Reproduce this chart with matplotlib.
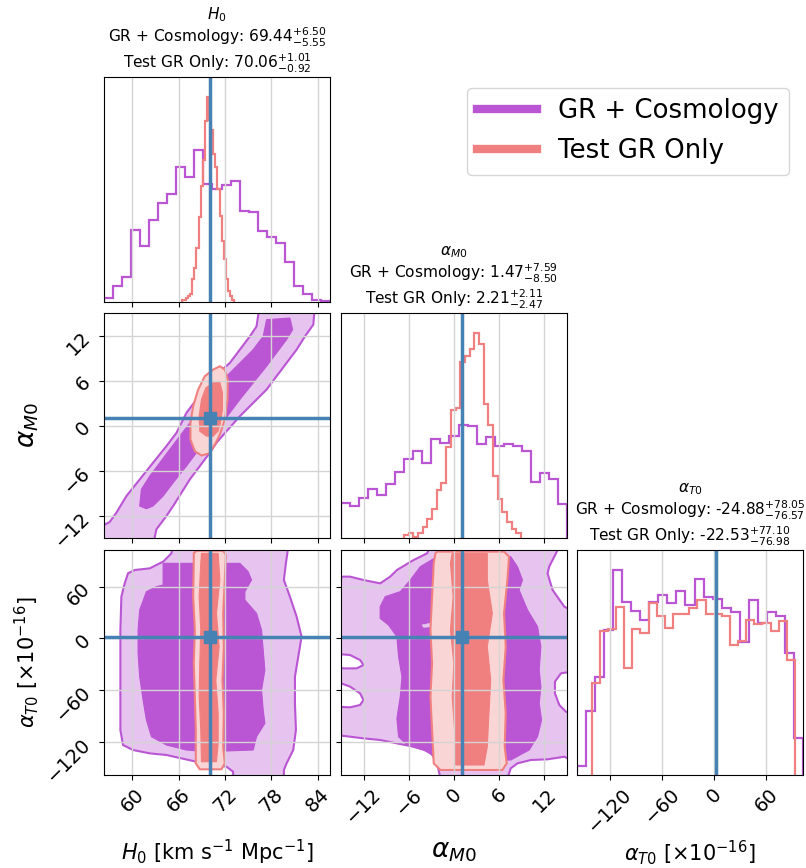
import numpy as np
import matplotlib.pyplot as plt
from matplotlib.lines import Line2D

series = ["GR + Cosmology", "Test GR Only"]
colors = ["mediumorchid", "lightcoral"]
light_colors = ["#e7c4f0", "#fad5d5"]
truth_color = "steelblue"

labels = ["$H_0$ [km s$^{-1}$ Mpc$^{-1}$]", r"$\alpha_{M0}$", r"$\alpha_{T0}$ [$\times10^{-16}$]"]
label_sizes = [15, 19, 15]
ranges = [(56.34, 85.6), (-15.0, 15.0), (-158.5, 102.5)]
ticks = [[60, 66, 72, 78, 84], [-12, -6, 0, 6, 12], [-120, -60, 0, 60]]
truths = [70.0, 1.0, 2.0]
titles = [
    "$H_0$\nGR + Cosmology: $69.44^{+6.50}_{-5.55}$\nTest GR Only: $70.06^{+1.01}_{-0.92}$",
    "$\\alpha_{M0}$\nGR + Cosmology: $1.47^{+7.59}_{-8.50}$\nTest GR Only: $2.21^{+2.11}_{-2.47}$",
    "$\\alpha_{T0}$\nGR + Cosmology: -24.88${}^{+78.05}_{-76.57}$\nTest GR Only: -22.53${}^{+77.10}_{-76.98}$",
]

# 1D marginals, 25 bins each (cosmo bins span the full axis range)
h0_cosmo = [0.018, 0.070, 0.111, 0.319, 0.250, 0.364, 0.438, 0.480, 0.599, 0.557, 0.673, 0.525, 0.501,
            0.520, 0.535, 0.406, 0.401, 0.317, 0.290, 0.260, 0.178, 0.071, 0.037, 0.010, 0.003]
h0_test = [0.007, 0.007, 0.019, 0.027, 0.034, 0.104, 0.153, 0.239, 0.376, 0.517, 0.629, 0.804, 0.908,
           0.807, 0.762, 0.658, 0.599, 0.502, 0.383, 0.272, 0.190, 0.101, 0.049, 0.025, 0.010]
h0_test_range = (66.40, 73.21)

am_cosmo = [0.157, 0.142, 0.180, 0.220, 0.191, 0.242, 0.295, 0.350, 0.387, 0.335, 0.442, 0.424, 0.454,
            0.504, 0.499, 0.420, 0.451, 0.409, 0.420, 0.409, 0.387, 0.249, 0.291, 0.261, 0.150]
am_test = [0.013, 0.021, 0.006, 0.021, 0.050, 0.083, 0.128, 0.212, 0.246, 0.407, 0.568, 0.577, 0.783,
           0.810, 0.843, 0.911, 0.865, 0.599, 0.503, 0.276, 0.172, 0.116, 0.073, 0.042, 0.021]
am_test_range = (-6.64, 8.91)

at_cosmo = [0.039, 0.287, 0.438, 0.648, 0.911, 0.770, 0.730, 0.692, 0.770, 0.802, 0.765, 0.820, 0.758,
            0.871, 0.792, 0.785, 0.743, 0.728, 0.591, 0.780, 0.676, 0.725, 0.707, 0.542, 0.163]
at_test = [0.409, 0.642, 0.651, 0.747, 0.477, 0.651, 0.633, 0.767, 0.710, 0.654, 0.715, 0.718, 0.743,
           0.780, 0.718, 0.715, 0.707, 0.577, 0.596, 0.691, 0.673, 0.678, 0.640, 0.684, 0.510]
at_test_range = (-141.5, 93.2)

# 2D credible regions (outer / inner contours), (x, y) in data units
h0_am_cosmo_out = [(55.0, -14.0), (57.07, -12.87), (57.94, -11.63), (59.24, -9.41), (60.96, -7.19),
                   (62.69, -4.97), (64.42, -2.75), (65.72, -0.98), (67.01, 1.68), (68.31, 3.46),
                   (69.61, 5.46), (70.90, 6.79), (72.63, 8.34), (73.93, 10.12), (75.23, 11.89),
                   (76.09, 13.22), (76.31, 14.78), (76.52, 16.0), (83.65, 16.0), (83.44, 13.45),
                   (82.36, 11.89), (81.28, 10.12), (79.98, 8.34), (78.68, 6.57), (77.39, 4.79),
                   (75.66, 3.02), (73.93, 1.24), (72.20, -0.76), (70.90, -2.31), (70.04, -3.64),
                   (68.74, -5.42), (67.45, -7.19), (66.37, -8.97), (65.29, -10.74), (64.42, -12.07),
                   (63.12, -13.85), (62.69, -16.0), (55.0, -16.0)]
h0_am_cosmo_in = [(60.96, -10.74), (61.18, -8.52), (62.26, -6.75), (63.56, -4.97), (64.85, -3.20),
                  (66.15, -1.42), (67.45, 0.35), (68.74, 2.57), (70.47, 4.79), (72.20, 6.57),
                  (73.93, 8.34), (75.66, 10.12), (76.95, 11.89), (77.39, 14.11), (80.41, 14.33),
                  (80.76, 12.78), (79.98, 11.45), (78.68, 9.67), (77.39, 7.90), (75.66, 5.68),
                  (73.93, 3.46), (72.63, 1.68), (71.34, -0.09), (69.61, -1.87), (68.31, -3.64),
                  (67.01, -5.42), (65.29, -7.64), (63.99, -9.41), (62.69, -10.74), (61.83, -11.10)]
h0_am_test_out = [(70.47, 7.45), (69.39, 6.57), (68.53, 4.79), (67.88, 2.57), (67.53, 0.35),
                  (67.53, -1.87), (68.10, -3.42), (68.96, -4.0), (69.95, -3.73), (70.82, -2.31),
                  (71.34, -1.20), (71.98, 0.80), (72.33, 3.46), (72.37, 6.12), (71.98, 7.45),
                  (71.34, 7.90)]
h0_am_test_in = [(68.74, -0.76), (68.66, 1.24), (68.96, 3.46), (69.52, 5.01), (70.47, 5.68),
                 (71.34, 5.77), (71.68, 4.35), (71.68, 2.13), (71.42, 0.35), (71.11, -0.76),
                 (70.47, -1.42), (69.61, -1.42)]

h0_at_cosmo_out = [(59.02, 63.83), (59.45, 75.43), (60.32, 79.30), (62.26, 81.23), (63.99, 88.97),
                   (65.07, 98.63), (65.20, 106.4), (80.20, 106.4), (79.89, 87.03), (79.63, 67.70),
                   (80.41, 48.36), (81.28, 25.16), (81.92, 1.96), (81.49, -21.24), (81.06, -44.44),
                   (81.06, -75.38), (81.19, -106.3), (80.84, -129.5), (79.98, -145.0), (79.63, -152.7),
                   (79.63, -162.4), (73.06, -162.4), (73.06, -154.7), (72.20, -148.9), (68.31, -143.1),
                   (64.42, -135.3), (62.26, -133.4), (60.10, -129.5), (58.80, -123.7), (58.46, -106.3),
                   (58.46, -67.6), (58.46, -29.0), (58.46, 9.7), (58.59, 48.36)]
h0_at_cosmo_in = [(63.99, 87.03), (73.93, 87.03), (75.01, 77.37), (75.44, 67.70), (74.58, 54.16),
                  (74.58, 44.50), (76.09, 29.03), (76.74, 9.69), (76.95, -13.5), (77.17, -36.7),
                  (76.74, -59.9), (76.95, -83.1), (77.17, -98.6), (76.09, -114.0), (75.66, -129.5),
                  (69.61, -131.5), (67.01, -129.5), (64.42, -123.7), (62.48, -114.0), (61.83, -94.7),
                  (61.40, -71.5), (60.96, -44.4), (60.75, -17.4), (60.75, 9.69), (60.96, 32.9),
                  (61.83, 54.16), (63.12, 60.0), (63.99, 61.9)]
h0_at_test_out = [(68.31, 101.7), (71.77, 101.7), (72.12, 96.7), (71.98, 67.7), (71.77, 29.0),
                  (71.85, -9.6), (71.68, -48.3), (71.85, -87.0), (71.77, -125.7), (71.98, -145.0),
                  (71.55, -151.9), (68.74, -151.9), (68.22, -145.0), (68.22, -106.3), (68.10, -67.6),
                  (67.96, -29.0), (68.10, 9.7), (67.88, 48.4), (67.96, 87.0), (67.96, 98.6)]
h0_at_test_in = [(68.96, 98.6), (71.12, 98.6), (71.34, 67.7), (70.90, 29.0), (71.25, -9.6),
                 (70.82, -48.3), (71.12, -87.0), (71.12, -121.8), (70.90, -143.1), (68.96, -143.1),
                 (68.87, -106.3), (68.66, -67.6), (68.74, -29.0), (68.87, 9.7), (68.66, 48.4),
                 (68.87, 87.0)]

am_at_cosmo_out = [(-15.58, 71.6), (-13.80, 71.6), (-12.02, 67.7), (-9.80, 63.8), (-8.47, 71.6),
                   (-7.58, 79.3), (-5.36, 90.9), (-3.58, 98.6), (-3.13, 106.4), (14.20, 106.4),
                   (13.76, 102.5), (12.64, 83.2), (12.42, 75.4), (13.09, 56.1), (14.64, 36.8),
                   (15.53, 32.9), (15.53, -141.1), (14.64, -137.3), (12.42, -140.3), (10.20, -141.1),
                   (8.42, -145.0), (7.53, -150.8), (7.09, -162.4), (-1.80, -162.4), (-2.24, -145.0),
                   (-3.13, -131.5), (-5.36, -125.7), (-7.58, -121.8), (-9.80, -117.9), (-12.02, -116.0),
                   (-15.58, -112.1)]
am_at_cosmo_holes = [
    [(-15.58, -18.1), (-13.80, -19.3), (-12.47, -25.1), (-12.02, -30.9), (-12.91, -34.8),
     (-14.69, -34.8), (-15.58, -33.6)],
    [(-15.58, -50.2), (-13.80, -56.0), (-12.47, -63.8), (-12.02, -71.5), (-12.47, -77.3),
     (-13.80, -80.0), (-15.58, -79.3)],
    [(15.53, -38.6), (14.20, -40.6), (13.40, -50.2), (13.40, -63.8), (13.98, -77.3),
     (14.87, -85.1), (15.53, -87.0)],
]
am_at_cosmo_in = [(-9.80, 36.8), (-9.13, 48.4), (-7.13, 54.2), (-5.80, 67.7), (-4.47, 83.2),
                  (-2.24, 94.8), (7.53, 94.8), (8.42, 83.2), (9.09, 67.7), (8.64, 56.1),
                  (9.76, 32.9), (11.09, 13.6), (11.53, -9.6), (11.31, -36.7), (11.53, -56.0),
                  (11.31, -75.4), (11.62, -94.7), (11.09, -114.0), (9.98, -129.5), (7.53, -141.1),
                  (-1.80, -141.1), (-4.02, -129.5), (-6.24, -123.7), (-7.36, -114.0), (-7.58, -92.8),
                  (-7.13, -67.6), (-6.91, -44.4), (-7.36, -21.2), (-7.58, 1.96), (-8.69, 15.5),
                  (-9.80, 23.2)]
am_at_cosmo_spot = [(-4.24, 15.5), (-3.13, 17.5), (-2.91, 13.6), (-4.02, 12.8)]
am_at_test_out = [(-2.24, 100.6), (6.64, 100.6), (7.31, 94.8), (7.09, 67.7), (6.64, 29.0),
                  (6.87, -9.6), (6.56, -48.3), (6.87, -87.0), (6.73, -125.7), (7.0, -145.0),
                  (6.42, -152.7), (-1.80, -152.7), (-2.69, -145.0), (-2.91, -106.3), (-3.13, -67.6),
                  (-2.91, -29.0), (-3.13, 9.7), (-2.91, 48.4), (-2.69, 87.0), (-2.47, 98.6)]
am_at_test_in = [(-0.24, 98.6), (4.42, 98.6), (4.42, 67.7), (5.09, 29.0), (4.42, -9.6),
                 (4.87, -48.3), (4.64, -87.0), (4.42, -125.7), (3.98, -146.9), (0.20, -146.9),
                 (0.07, -106.3), (-0.24, -67.6), (-0.02, -29.0), (-0.47, 9.7), (-0.11, 48.4),
                 (-0.47, 87.0)]


def fill_region(ax, pts, face, edge, lw):
    x, y = np.array(pts).T
    ax.fill(x, y, facecolor=face, edgecolor=edge, lw=lw)


fig = plt.figure(figsize=(8.06, 8.68), dpi=100)
W, H = 806.0, 868.0
lefts = [104, 341, 577]
tops = [77, 313, 550]
pw, ph = 226, 225
axes = {}
for i in range(3):
    for j in range(i + 1):
        axes[i, j] = fig.add_axes([lefts[j] / W, 1 - (tops[i] + ph) / H, pw / W, ph / H])

# diagonal: 1D histograms
hists = [(h0_cosmo, h0_test, h0_test_range), (am_cosmo, am_test, am_test_range),
         (at_cosmo, at_test, at_test_range)]
for k, (hc, ht, trange) in enumerate(hists):
    ax = axes[k, k]
    ax.stairs(hc, np.linspace(ranges[k][0], ranges[k][1], len(hc) + 1), color=colors[0], lw=1.6)
    ax.stairs(ht, np.linspace(trange[0], trange[1], len(ht) + 1), color=colors[1], lw=1.6)
    ax.axvline(truths[k], color=truth_color, lw=2.5)
    ax.set_ylim(0, 1.1 * max(max(hc), max(ht)))
    ax.set_yticks([])
    ax.set_title(titles[k], fontsize=11.1, linespacing=1.15)

# off-diagonal: 2D regions
pairs = {
    (1, 0): [(h0_am_cosmo_out, h0_am_cosmo_in, []), (h0_am_test_out, h0_am_test_in, [])],
    (2, 0): [(h0_at_cosmo_out, h0_at_cosmo_in, []), (h0_at_test_out, h0_at_test_in, [])],
    (2, 1): [(am_at_cosmo_out, am_at_cosmo_in, am_at_cosmo_holes), (am_at_test_out, am_at_test_in, [])],
}
for (i, j), sets in pairs.items():
    ax = axes[i, j]
    for s, (outer, inner, holes) in enumerate(sets):
        fill_region(ax, outer, light_colors[s], colors[s], 1.5)
        for h in holes:
            fill_region(ax, h, "white", colors[s], 1.5)
        fill_region(ax, inner, colors[s], colors[s], 0.8)
        if (i, j) == (2, 1) and s == 0:
            fill_region(ax, am_at_cosmo_spot, light_colors[0], light_colors[0], 0.5)
    ax.axvline(truths[j], color=truth_color, lw=2.5)
    ax.axhline(truths[i], color=truth_color, lw=2.5)
    ax.plot(truths[j], truths[i], "s", color=truth_color, ms=8)
    ax.set_ylim(ranges[i])
    ax.set_yticks(ticks[i])
    if j == 0:
        ax.set_ylabel(labels[i], fontsize=label_sizes[i])
        ax.yaxis.set_label_coords(-0.28, 0.5)
        for l in ax.get_yticklabels():
            l.set_rotation(45)
    else:
        ax.set_yticklabels([])

for (i, j), ax in axes.items():
    ax.set_xlim(ranges[j])
    ax.set_xticks(ticks[j])
    ax.grid(True, color="#d4d4d4", lw=1)
    ax.tick_params(labelsize=14)
    if i == 2:
        ax.set_xlabel(labels[j], fontsize=label_sizes[j])
        ax.xaxis.set_label_coords(0.5, -0.28)
        for l in ax.get_xticklabels():
            l.set_rotation(45)
    else:
        ax.set_xticklabels([])

handles = [Line2D([], [], color=c, lw=6) for c in colors]
fig.legend(handles, series, loc="upper right", bbox_to_anchor=(0.995, 0.914), fontsize=18.7,
           handlelength=2.3, labelspacing=0.55)

fig.savefig("out.png", dpi=100)
